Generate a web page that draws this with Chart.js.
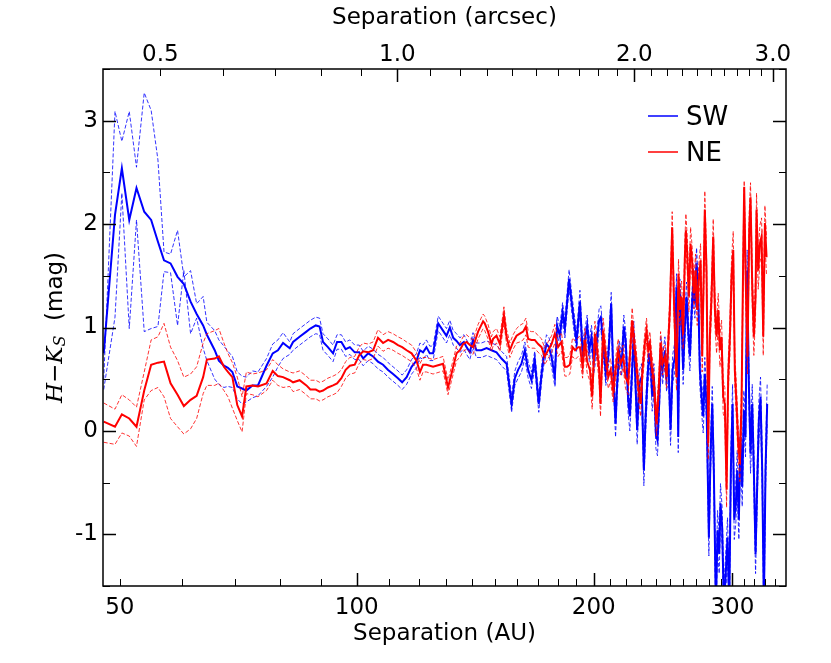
<!DOCTYPE html>
<html>
<head>
<meta charset="utf-8">
<script src="https://cdn.jsdelivr.net/npm/chart.js@4.4.1/dist/chart.umd.min.js"></script>
<style>
  html, body { margin: 0; padding: 0; background: #fff; }
  #wrap { width: 831px; height: 663px; }
</style>
</head>
<body>
<div id="wrap"><canvas id="CHART" width="831" height="663"></canvas></div>
<script>
// DATA

// separations (AU) shared by both sides out to 125 AU
const innerSep = [
  47.7, 49.3, 50.3, 51.4, 52.5, 53.7, 54.8, 55.9, 56.9, 58.0, 59.2, 60.3, 61.5, 62.6, 63.8, 64.5,
  66.0, 66.8, 67.8, 68.6, 69.5, 70.5, 71.5, 72.4, 73.7, 74.9, 76.8, 78.2, 79.4, 80.6, 82.2,
  83.0, 84.6, 86.3, 87.3, 88.7, 89.7, 90.6, 91.9, 93.3, 94.4, 95.6, 96.8, 98.0, 99.4, 100.7, 101.9,
  103.4, 104.9, 106.4, 108.0, 109.6, 111.2, 112.8, 114.2, 115.7, 117.4, 119.1, 120.3, 121.4, 122.6, 123.8, 125.0
];

// SW side
const swOuterSep = [
  126.9, 128.7, 130.0, 131.3, 132.6, 133.9, 135.2, 136.8, 137.9, 139.2, 140.5, 141.9, 144.0, 146.2,
  148.3, 150.5, 152.7, 155.0, 157.3, 158.8, 160.3, 161.9, 163.5, 165.1, 166.7, 168.3, 170.3, 171.7,
  172.8, 174.2, 175.5, 176.8, 178.5, 179.7, 181.1, 182.6, 183.8, 186.1, 187.4, 188.7, 190.2,
  192.1, 193.6, 194.9, 196.2, 197.4, 198.7, 200.1, 201.7, 203.2, 204.2, 205.6, 207.2, 208.7, 210.5,
  211.7, 213.2, 214.2, 215.5, 217.0, 218.4, 219.7, 221.2, 222.3, 223.8, 224.9, 226.0, 227.1, 228.5,
  230.0, 231.6, 232.7, 234.1, 235.2, 236.4, 237.3, 238.5, 239.9, 241.0, 242.2, 243.4, 244.6, 246.3,
  247.5, 248.9, 250.4, 251.9, 253.6, 254.8, 256.1,
  257.3, 258.6, 259.8, 261.1, 262.4, 263.7, 265.0, 266.3, 267.6, 268.9, 270.2, 271.5, 272.8, 274.2,
  275.5, 276.8, 278.2, 280.1, 281.5, 282.9, 284.2, 285.9, 287.3, 288.7, 289.8, 291.2, 292.7, 294.4,
  295.8, 297.3, 298.7, 300.2, 301.7, 303.1, 304.3, 305.8, 307.3, 308.8, 310.3, 311.8, 313.3, 314.9,
  316.4, 318.0, 319.5, 321.1, 322.6, 324.2, 325.8, 327.4, 329.0, 330.6, 332.2
];
const swMid = [
  0.75, 2.09, 2.54, 2.04, 2.35, 2.12, 2.04, 1.83, 1.65, 1.62, 1.49, 1.42, 1.25, 1.13, 1.02, 0.93,
  0.78, 0.68, 0.63, 0.61, 0.57, 0.43, 0.41, 0.39, 0.44, 0.44, 0.63, 0.75, 0.78, 0.85, 0.80,
  0.86, 0.91, 0.96, 0.99, 1.02, 1.01, 0.86, 0.81, 0.75, 0.86, 0.86, 0.79, 0.81, 0.76, 0.76, 0.70,
  0.75, 0.72, 0.67, 0.64, 0.59, 0.55, 0.51, 0.47, 0.52, 0.62, 0.68, 0.78, 0.76, 0.81, 0.75, 0.75,
  1.04, 0.97, 0.92, 1.00, 0.90, 0.87, 0.83, 0.86, 0.81, 0.76, 0.88, 0.78, 0.78, 0.80,
  0.78, 0.76, 0.70, 0.65, 0.26, 0.51, 0.59, 0.65, 0.78, 0.59, 0.49, 0.69, 0.26, 0.55,
  0.71, 0.84, 0.81, 0.71, 0.52, 1.02, 0.92, 1.15, 0.99, 1.47, 1.26, 1.07, 0.86,
  1.25, 0.76, 0.88, 1.02, 0.78, 0.91, 0.67, 0.85, 1.07, 1.10, 0.85, 0.55, 0.72, 1.23,
  0.59, 0.07, 0.46, 0.76, 0.65, 1.01, 0.85, 0.30, 0.14, 0.59, 0.94, 0.46, 0.01, 0.46,
  0.52, -0.38, 0.10, 0.52, 0.75, 0.62, 0.33, 0.52, -0.03, -0.09, 0.26, 0.78, 0.59, 0.78,
  0.52, 0.65, 0.01, 0.59, 0.72, 1.39, -0.06,
  1.33, 1.07, 0.59, 1.01, 1.30, 0.97, 0.72, 1.14, 1.43, 1.23, 1.62, 1.33, 0.59, 0.33,
  0.14, 0.55, 0.26, -1.03, -0.22, 0.26, -0.38, -1.70, -0.96, -1.19, -0.70, -0.93, -1.70, -1.35,
  -1.03, -1.70, -0.38, 0.26, -0.86, -0.70, -0.38, -0.86, -0.06, -0.54, 0.20, -0.06, 1.55, 0.43,
  -0.22, 0.26, -0.38, -1.19, -0.54, 0.10, 0.33, -0.38, -1.70, -0.38, 0.26
];
const swHigh = [
  0.50, 3.09, 2.80, 3.09, 2.55, 3.27, 3.10, 2.62, 1.73, 1.71, 1.94, 1.49, 1.55, 1.23, 1.30, 1.05,
  0.97, 0.88, 0.82, 0.77, 0.72, 0.57, 0.53, 0.52, 0.58, 0.57, 0.70, 0.84, 0.88, 0.95, 0.86,
  0.94, 0.99, 1.04, 1.07, 1.10, 1.09, 0.94, 0.89, 0.83, 0.93, 0.93, 0.86, 0.88, 0.83, 0.83, 0.77,
  0.82, 0.79, 0.74, 0.71, 0.66, 0.62, 0.58, 0.54, 0.59, 0.69, 0.75, 0.85, 0.83, 0.88, 0.82, 0.82,
  1.11, 1.04, 0.99, 1.07, 0.97, 0.94, 0.90, 0.93, 0.88, 0.83, 0.95, 0.85, 0.85, 0.87,
  0.85, 0.83, 0.77, 0.72, 0.34, 0.58, 0.67, 0.73, 0.86, 0.67, 0.57, 0.77, 0.34, 0.63,
  0.79, 0.93, 0.90, 0.80, 0.61, 1.11, 1.01, 1.24, 1.08, 1.56, 1.35, 1.16, 0.95,
  1.36, 0.86, 0.98, 1.12, 0.88, 1.02, 0.77, 0.95, 1.18, 1.21, 0.95, 0.66, 0.82, 1.34,
  0.70, 0.19, 0.57, 0.87, 0.76, 1.12, 0.96, 0.42, 0.27, 0.71, 1.06, 0.58, 0.14, 0.58,
  0.65, -0.24, 0.23, 0.65, 0.88, 0.75, 0.46, 0.65, 0.10, 0.05, 0.40, 0.91, 0.72, 0.91,
  0.66, 0.79, 0.15, 0.73, 0.86, 1.52, 0.08,
  1.47, 1.21, 0.73, 1.15, 1.44, 1.11, 0.86, 1.28, 1.57, 1.37, 1.77, 1.47, 0.74, 0.48,
  0.30, 0.71, 0.42, -0.85, -0.05, 0.43, -0.20, -1.50, -0.77, -1.00, -0.51, -0.74, -1.50, -1.16,
  -0.84, -1.50, -0.19, 0.45, -0.67, -0.51, -0.19, -0.67, 0.13, -0.35, 0.39, 0.13, 1.75, 0.62,
  -0.03, 0.45, -0.19, -1.00, -0.35, 0.29, 0.52, -0.19, -1.50, -0.19, 0.45
];
const swLow = [
  0.40, 1.10, 2.30, 0.99, 2.04, 0.96, 0.99, 1.01, 1.54, 1.53, 1.02, 1.55, 0.94, 1.09, 0.80, 0.68,
  0.50, 0.45, 0.42, 0.43, 0.42, 0.31, 0.26, 0.28, 0.32, 0.34, 0.43, 0.52, 0.62, 0.70, 0.74,
  0.78, 0.83, 0.88, 0.91, 0.94, 0.93, 0.78, 0.73, 0.67, 0.79, 0.79, 0.72, 0.74, 0.69, 0.69, 0.63,
  0.68, 0.65, 0.60, 0.57, 0.52, 0.48, 0.44, 0.40, 0.45, 0.55, 0.61, 0.71, 0.69, 0.74, 0.68, 0.68,
  0.97, 0.90, 0.85, 0.93, 0.83, 0.80, 0.76, 0.79, 0.74, 0.69, 0.81, 0.71, 0.71, 0.73,
  0.71, 0.69, 0.63, 0.58, 0.18, 0.44, 0.51, 0.57, 0.70, 0.51, 0.41, 0.61, 0.18, 0.47,
  0.63, 0.75, 0.72, 0.62, 0.43, 0.93, 0.83, 1.06, 0.90, 1.38, 1.17, 0.98, 0.77,
  1.14, 0.65, 0.77, 0.91, 0.67, 0.80, 0.56, 0.74, 0.96, 0.99, 0.74, 0.44, 0.61, 1.11,
  0.48, -0.06, 0.34, 0.64, 0.53, 0.89, 0.73, 0.17, 0.00, 0.46, 0.82, 0.33, -0.13, 0.33,
  0.38, -0.53, -0.04, 0.38, 0.61, 0.48, 0.19, 0.38, -0.17, -0.24, 0.12, 0.64, 0.45, 0.64,
  0.38, 0.51, -0.14, 0.45, 0.58, 1.25, -0.21,
  1.19, 0.93, 0.45, 0.87, 1.16, 0.83, 0.58, 1.00, 1.29, 1.09, 1.47, 1.19, 0.44, 0.18,
  -0.02, 0.39, 0.10, -1.21, -0.39, 0.09, -0.56, -1.90, -1.15, -1.38, -0.89, -1.12, -1.90, -1.54,
  -1.22, -1.90, -0.57, 0.07, -1.05, -0.89, -0.57, -1.05, -0.25, -0.73, 0.01, -0.25, 1.35, 0.24,
  -0.41, 0.07, -0.57, -1.38, -0.73, -0.09, 0.14, -0.57, -1.90, -0.57, 0.07
];

// NE side
const neOuterSep = [
  127.5, 128.7, 130.6, 131.9, 133.9, 135.2, 136.5, 137.9, 139.2, 140.5, 142.6, 144.7, 145.4, 146.8,
  148.3, 149.0, 150.5, 152.0, 153.8, 155.0, 156.5, 158.0, 159.6, 161.1, 162.7, 164.0, 165.1, 166.7,
  168.3, 170.0, 171.7, 173.3, 175.0, 176.8, 178.5, 180.2, 182.0, 183.8, 185.0, 186.5, 188.0, 189.4, 191.1,
  192.1, 193.6, 194.9, 196.2, 197.8, 199.1, 200.7, 202.0, 203.2, 204.0, 205.6, 207.2, 208.7, 210.1,
  211.7, 213.2, 214.8, 216.3, 218.0, 219.5, 221.2, 222.3, 223.8, 224.9, 226.2, 227.8, 229.4, 230.7,
  232.3, 233.4, 234.6, 235.7, 236.9, 238.5, 240.3, 242.0, 243.2, 244.6, 246.3, 247.5, 248.7, 249.9,
  251.6, 253.1, 254.8, 256.3,
  257.3, 258.6, 259.8, 261.1, 261.9, 262.9, 264.2, 265.5, 266.8, 268.1, 269.4, 270.7, 272.0, 273.4,
  274.7, 276.0, 276.8, 278.2, 279.6, 280.9, 282.3, 283.7, 285.1, 286.5, 287.9, 289.3, 290.7, 292.1,
  293.5, 295.0, 296.4, 297.9, 299.3, 300.8, 302.2, 303.7, 305.2, 306.7, 308.2, 309.7, 310.6, 312.1,
  313.6, 315.2, 316.4, 318.0, 319.5, 321.1, 322.0, 323.6, 325.2, 326.8, 328.4, 330.0, 331.6
];
const neMid = [
  0.09, 0.04, 0.16, 0.12, 0.04, 0.39, 0.64, 0.66, 0.67, 0.46, 0.35, 0.24, 0.30, 0.34, 0.52, 0.69,
  0.70, 0.72, 0.62, 0.57, 0.52, 0.25, 0.14, 0.43, 0.44, 0.43, 0.46, 0.58, 0.53, 0.52, 0.49,
  0.47, 0.49, 0.44, 0.40, 0.40, 0.38, 0.39, 0.42, 0.44, 0.46, 0.51, 0.59, 0.63, 0.64, 0.73, 0.77,
  0.76, 0.78, 0.90, 0.85, 0.88, 0.86, 0.83, 0.81, 0.78, 0.75, 0.68, 0.57, 0.64, 0.64, 0.63, 0.62,
  0.64, 0.65, 0.42, 0.55, 0.75, 0.78, 0.84, 0.86, 0.83, 0.81, 0.96, 1.06, 1.04, 0.96,
  0.84, 0.89, 0.92, 0.84, 1.12, 0.91, 0.78, 0.86, 0.92, 0.94, 0.96, 1.01, 0.89, 0.88,
  0.88, 0.84, 0.81, 0.72, 0.78, 0.84, 0.94, 0.81, 0.86, 0.62, 0.62, 0.64, 0.81, 0.78, 0.81,
  0.81, 0.62, 0.88, 0.67, 0.59, 0.33, 0.94, 0.78, 0.59, 0.26, 0.97, 0.72, 0.52, 0.59,
  0.39, 0.59, 0.78, 0.65, 0.72, 0.52, 0.46, 0.72, 1.07, 0.88, 0.72, 0.43, 0.26, 0.59,
  0.85, 0.97, 0.78, 0.85, 0.65, 0.46, 0.07, 0.43, 0.85, 0.65, 0.72, 0.52, 0.85, 1.17,
  1.97, 1.17, 0.52, 1.52,
  1.17, 1.30, 0.94, 1.68, 1.94, 1.72, 1.30, 1.81, 1.62, 1.33, 1.55, 1.17, 1.46, 1.65,
  0.72, 1.55, 2.14, 1.55, -0.12, 0.91, 1.30, 1.88, 1.17, 0.91, 1.17, 0.78, 0.91, 0.33,
  0.26, -0.57, 0.52, 0.91, 1.49, 1.75, 0.59, 0.26, -0.12, -0.32, 0.26, 1.68, 2.36, 1.39,
  0.72, 1.94, 2.26, 1.39, 0.91, 1.30, 2.14, 1.55, 1.81, 1.88, 0.91, 2.01, 1.68
];
const neHigh = [
  0.27, 0.21, 0.35, 0.30, 0.23, 0.57, 0.88, 0.91, 1.04, 0.81, 0.68, 0.52, 0.55, 0.62, 0.85, 0.94,
  0.97, 0.99, 0.85, 0.75, 0.66, 0.52, 0.33, 0.57, 0.55, 0.56, 0.59, 0.69, 0.64, 0.60, 0.57,
  0.56, 0.58, 0.53, 0.49, 0.49, 0.47, 0.48, 0.51, 0.53, 0.55, 0.59, 0.67, 0.71, 0.72, 0.81, 0.85,
  0.84, 0.86, 0.98, 0.93, 0.96, 0.94, 0.91, 0.89, 0.86, 0.83, 0.76, 0.65, 0.71, 0.71, 0.70, 0.69,
  0.71, 0.72, 0.49, 0.62, 0.82, 0.85, 0.91, 0.93, 0.90, 0.88, 1.03, 1.13, 1.11, 1.03,
  0.91, 0.96, 0.99, 0.91, 1.20, 0.98, 0.85, 0.93, 0.99, 1.02, 1.04, 1.09, 0.97, 0.96,
  0.96, 0.92, 0.89, 0.80, 0.86, 0.92, 1.03, 0.90, 0.95, 0.71, 0.71, 0.73, 0.90, 0.87, 0.90,
  0.92, 0.73, 0.99, 0.78, 0.70, 0.45, 1.06, 0.89, 0.70, 0.38, 1.09, 0.83, 0.63, 0.70,
  0.50, 0.70, 0.89, 0.76, 0.83, 0.63, 0.57, 0.83, 1.19, 0.99, 0.83, 0.55, 0.38, 0.70,
  0.96, 1.09, 0.89, 0.96, 0.76, 0.57, 0.19, 0.55, 0.96, 0.76, 0.83, 0.63, 0.97, 1.30,
  2.12, 1.30, 0.65, 1.66,
  1.32, 1.45, 1.09, 1.84, 2.10, 1.88, 1.45, 1.97, 1.77, 1.48, 1.71, 1.32, 1.62, 1.81,
  0.87, 1.71, 2.32, 1.71, 0.04, 1.06, 1.46, 2.05, 1.33, 1.07, 1.33, 0.94, 1.07, 0.49,
  0.42, -0.40, 0.68, 1.08, 1.66, 1.93, 0.75, 0.42, 0.05, -0.15, 0.43, 1.86, 2.42, 1.56,
  0.89, 2.12, 2.40, 1.57, 1.09, 1.48, 2.30, 1.73, 1.99, 2.06, 1.09, 2.18, 1.86
];
const neLow = [
  -0.11, -0.13, -0.02, -0.05, -0.15, 0.30, 0.39, 0.42, 0.33, 0.12, 0.04, -0.03, 0.02, 0.12, 0.36, 0.44,
  0.44, 0.46, 0.39, 0.33, 0.22, 0.10, -0.01, 0.36, 0.35, 0.33, 0.39, 0.49, 0.44, 0.42, 0.43,
  0.38, 0.40, 0.35, 0.31, 0.31, 0.29, 0.30, 0.33, 0.35, 0.37, 0.43, 0.51, 0.55, 0.56, 0.65, 0.69,
  0.68, 0.70, 0.82, 0.77, 0.80, 0.78, 0.75, 0.73, 0.70, 0.67, 0.60, 0.49, 0.57, 0.57, 0.56, 0.55,
  0.57, 0.58, 0.35, 0.48, 0.68, 0.71, 0.77, 0.79, 0.76, 0.74, 0.89, 0.99, 0.97, 0.89,
  0.77, 0.82, 0.85, 0.77, 1.04, 0.84, 0.71, 0.79, 0.85, 0.86, 0.88, 0.93, 0.81, 0.80,
  0.80, 0.76, 0.73, 0.64, 0.70, 0.76, 0.85, 0.72, 0.77, 0.53, 0.53, 0.55, 0.72, 0.69, 0.72,
  0.70, 0.51, 0.77, 0.56, 0.48, 0.21, 0.82, 0.67, 0.48, 0.14, 0.85, 0.61, 0.41, 0.48,
  0.28, 0.48, 0.67, 0.54, 0.61, 0.41, 0.35, 0.61, 0.95, 0.77, 0.61, 0.31, 0.14, 0.48,
  0.74, 0.85, 0.67, 0.74, 0.54, 0.35, -0.05, 0.31, 0.74, 0.54, 0.61, 0.41, 0.73, 1.04,
  1.82, 1.04, 0.39, 1.38,
  1.02, 1.15, 0.79, 1.52, 1.78, 1.56, 1.15, 1.65, 1.47, 1.18, 1.39, 1.02, 1.30, 1.49,
  0.57, 1.39, 1.96, 1.39, -0.28, 0.76, 1.14, 1.71, 1.01, 0.75, 1.01, 0.62, 0.75, 0.17,
  0.10, -0.74, 0.36, 0.74, 1.32, 1.57, 0.43, 0.10, -0.29, -0.49, 0.09, 1.50, 2.20, 1.22,
  0.55, 1.76, 2.10, 1.21, 0.73, 1.12, 1.98, 1.37, 1.63, 1.70, 0.73, 1.84, 1.50
];

// axes
const auPerArcsec = 112.6;
const auMin = 47.6, auMax = 351;
const auTicks = [50, 60, 70, 80, 90, 100, 110, 120, 130, 140, 150, 160, 170, 180, 190, 200,
  210, 220, 230, 240, 250, 260, 270, 280, 290, 300, 310, 320, 330, 340];
const auLabels = [50, 100, 200, 300];
const auMajor = [100, 200, 300];
const arcTicks = [0.5, 0.6, 0.7, 0.8, 0.9, 1.0, 1.1, 1.2, 1.3, 1.4, 1.5, 1.6, 1.7, 1.8, 1.9, 2.0,
  2.1, 2.2, 2.3, 2.4, 2.5, 2.6, 2.7, 2.8, 2.9, 3.0];
const arcLabels = [0.5, 1.0, 2.0, 3.0];
const arcMajor = [1.0, 2.0, 3.0];
const magTicks = [-1.5, -1, -0.5, 0, 0.5, 1, 1.5, 2, 2.5, 3, 3.5];
const magLabels = [-1, 0, 1, 2, 3];

const swSep = innerSep.concat(swOuterSep);
const neSep = innerSep.concat(neOuterSep);

[[swSep, swMid, swHigh, swLow], [neSep, neMid, neHigh, neLow]].forEach(set => {
    const n = set.map(a => a.length);
    if (n.some(v => v !== n[0])) throw new Error("array lengths differ: " + n.join(","));
});

const BLUE = "#0000ff";
const RED = "#ff0000";

function pts(sep, vals) {
    return sep.map((x, i) => ({ x: x, y: vals[i] }));
}

function lineSet(label, sep, vals, color, dashed, order) {
    return {
        label: label,
        data: pts(sep, vals),
        borderColor: color,
        borderWidth: dashed ? 1 : 2,
        borderDash: dashed ? [4, 2] : [],
        pointRadius: 0,
        fill: false,
        tension: 0,
        order: order,
    };
}

// inward ticks on all four sides plus the frame
const frameTicks = {
    id: "frameTicks",
    afterDatasetsDraw(chart) {
        const { ctx, chartArea: a, scales } = chart;
        ctx.save();
        ctx.strokeStyle = "#000";
        const tick = (x1, y1, x2, y2, w) => {
            ctx.lineWidth = w;
            ctx.beginPath();
            ctx.moveTo(x1, y1);
            ctx.lineTo(x2, y2);
            ctx.stroke();
        };
        auTicks.forEach(v => {
            const px = Math.round(scales.x.getPixelForValue(v)) + 0.5;
            const big = auMajor.includes(v);
            tick(px, a.bottom, px, a.bottom - (big ? 13 : 7), big ? 1.5 : 1);
        });
        arcTicks.forEach(v => {
            const px = Math.round(scales.x2.getPixelForValue(v)) + 0.5;
            const big = arcMajor.includes(v);
            tick(px, a.top, px, a.top + (big ? 13 : 7), big ? 1.5 : 1);
        });
        magTicks.forEach(v => {
            const py = Math.round(scales.y.getPixelForValue(v)) + 0.5;
            const big = Number.isInteger(v);
            tick(a.left, py, a.left + (big ? 13 : 7), py, big ? 1.5 : 1);
            tick(a.right, py, a.right - (big ? 13 : 7), py, big ? 1.5 : 1);
        });
        ctx.lineWidth = 1.5;
        ctx.strokeRect(a.left, a.top, a.right - a.left, a.bottom - a.top);
        ctx.restore();
    }
};

// legend in the upper right corner of the plot
const cornerLegend = {
    id: "cornerLegend",
    afterDraw(chart) {
        const { ctx, chartArea: a } = chart;
        const rows = [{ name: "SW", color: BLUE }, { name: "NE", color: RED }];
        ctx.save();
        ctx.font = '26px "DejaVu Sans"';
        ctx.textBaseline = "middle";
        rows.forEach((r, i) => {
            const y = a.top + 47 + i * 36;
            ctx.strokeStyle = r.color;
            ctx.lineWidth = 1.5;
            ctx.beginPath();
            ctx.moveTo(a.right - 138, y);
            ctx.lineTo(a.right - 108, y);
            ctx.stroke();
            ctx.fillStyle = "#000";
            ctx.fillText(r.name, a.right - 100, y + 2);
        });
        ctx.restore();
    }
};

// y title with italic H, K and subscript S
const magTitle = {
    id: "magTitle",
    afterDraw(chart) {
        const { ctx, chartArea: a } = chart;
        const parts = [
            { t: "H", f: 'italic 23px "DejaVu Serif"', dy: 0 },
            { t: "\u2212", f: '23px "DejaVu Sans"', dy: 0 },
            { t: "K", f: 'italic 23px "DejaVu Serif"', dy: 0 },
            { t: "S", f: 'italic 16px "DejaVu Serif"', dy: 5 },
            { t: "  (mag)", f: '23px "DejaVu Sans"', dy: 0 },
        ];
        ctx.save();
        let total = 0;
        parts.forEach(p => { ctx.font = p.f; p.w = ctx.measureText(p.t).width; total += p.w; });
        ctx.translate(56, (a.top + a.bottom) / 2);
        ctx.rotate(-Math.PI / 2);
        ctx.fillStyle = "#000";
        ctx.textBaseline = "middle";
        let x = -total / 2;
        parts.forEach(p => {
            ctx.font = p.f;
            ctx.fillText(p.t, x, p.dy);
            x += p.w;
        });
        ctx.restore();
    }
};

Chart.defaults.font.family = '"DejaVu Sans"';
Chart.defaults.color = "#000";

const axisFont = { size: 23, lineHeight: 1.2 };

const chart = new Chart(document.getElementById("CHART"), {
    type: "line",
    data: {
        datasets: [
            lineSet("NE", neSep, neMid, RED, false, 0),
            lineSet("NE upper", neSep, neHigh, "rgba(255,0,0,0.8)", true, 1),
            lineSet("NE lower", neSep, neLow, "rgba(255,0,0,0.8)", true, 1),
            lineSet("SW", swSep, swMid, BLUE, false, 2),
            lineSet("SW upper", swSep, swHigh, "rgba(0,0,255,0.8)", true, 3),
            lineSet("SW lower", swSep, swLow, "rgba(0,0,255,0.8)", true, 3),
        ],
    },
    options: {
        responsive: false,
        animation: false,
        devicePixelRatio: 1,
        layout: { padding: { left: 0, right: 45, top: 0, bottom: 0 } },
        plugins: {
            legend: { display: false },
            tooltip: { enabled: false },
        },
        scales: {
            x: {
                type: "logarithmic",
                position: "bottom",
                min: auMin,
                max: auMax,
                grid: { display: false, drawTicks: false },
                border: { display: false },
                afterBuildTicks: s => { s.ticks = auTicks.map(v => ({ value: v })); },
                afterFit: s => { s.height = 77; },
                ticks: {
                    autoSkip: false,
                    maxRotation: 0,
                    padding: 8,
                    font: axisFont,
                    callback: v => auLabels.includes(v) ? String(v) : "",
                },
                title: {
                    display: true,
                    text: "Separation (AU)",
                    font: axisFont,
                    padding: { top: 0, bottom: 15 },
                },
            },
            x2: {
                type: "logarithmic",
                position: "top",
                min: auMin / auPerArcsec,
                max: auMax / auPerArcsec,
                grid: { display: false, drawTicks: false },
                border: { display: false },
                afterBuildTicks: s => { s.ticks = arcTicks.map(v => ({ value: v })); },
                afterFit: s => { s.height = 69; },
                ticks: {
                    autoSkip: false,
                    maxRotation: 0,
                    padding: 0,
                    font: axisFont,
                    callback: v => arcLabels.includes(v) ? v.toFixed(1) : "",
                },
                title: {
                    display: true,
                    text: "Separation (arcsec)",
                    font: axisFont,
                    padding: { top: 4, bottom: 0 },
                },
            },
            y: {
                type: "linear",
                min: -1.5,
                max: 3.5,
                grid: { display: false, drawTicks: false },
                border: { display: false },
                afterBuildTicks: s => { s.ticks = magTicks.map(v => ({ value: v })); },
                afterFit: s => { s.width = 103; },
                ticks: {
                    autoSkip: false,
                    padding: 5,
                    font: axisFont,
                    callback: v => magLabels.includes(v) ? String(v) : "",
                },
            },
        },
    },
    plugins: [frameTicks, cornerLegend, magTitle],
});
</script>
</body>
</html>
